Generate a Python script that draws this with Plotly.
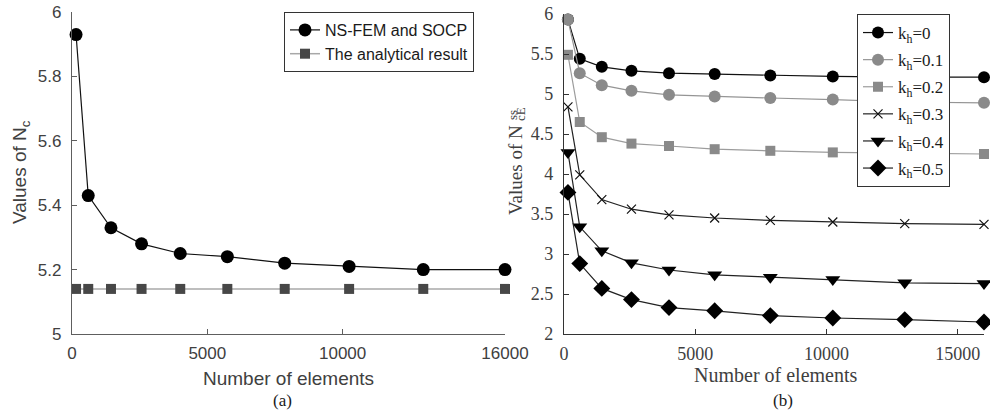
import plotly.graph_objects as go

# Mesh sizes used in the convergence study
elements = [150, 600, 1440, 2570, 4000, 5740, 7860, 10240, 12980, 16000]

# (a) bearing capacity factor Nc
nc_nsfem = [5.93, 5.43, 5.33, 5.28, 5.25, 5.24, 5.22, 5.21, 5.20, 5.20]
nc_analytical = [5.14, 5.14, 5.14, 5.14, 5.14, 5.14, 5.14, 5.14, 5.14, 5.14]

# (b) seismic factor N_cE^ss for several horizontal seismic coefficients
kh_labels = ["0", "0.1", "0.2", "0.3", "0.4", "0.5"]
ncE = [
    [5.93, 5.44, 5.34, 5.29, 5.26, 5.25, 5.23, 5.22, 5.21, 5.21],
    [5.93, 5.26, 5.11, 5.04, 4.99, 4.97, 4.95, 4.93, 4.90, 4.89],
    [5.49, 4.65, 4.46, 4.38, 4.35, 4.31, 4.29, 4.27, 4.26, 4.25],
    [4.84, 3.99, 3.68, 3.56, 3.49, 3.45, 3.42, 3.40, 3.38, 3.37],
    [4.27, 3.34, 3.04, 2.89, 2.80, 2.74, 2.71, 2.68, 2.64, 2.63],
    [3.77, 2.88, 2.57, 2.43, 2.33, 2.29, 2.23, 2.20, 2.18, 2.15],
]

left_xticks = [0, 5000, 10000, 16000]
left_yticks = [5, 5.2, 5.4, 5.6, 5.8, 6]
right_xticks = [0, 5000, 10000, 15000]
right_yticks = [2, 2.5, 3, 3.5, 4, 4.5, 5, 5.5, 6]

W, H = 990, 415
SANS = "Liberation Sans, Arial, sans-serif"
SERIF = "Liberation Serif, DejaVu Serif, serif"


def px(x):
    return x / W


def py(y):
    return 1 - y / H


fig = go.Figure()

# ---- panel (a)
fig.add_trace(go.Scatter(
    x=elements, y=nc_nsfem, mode="lines+markers", name="NS-FEM and SOCP",
    line=dict(color="#111111", width=1.2),
    marker=dict(symbol="circle", size=13, color="#000000"),
    xaxis="x", yaxis="y", legend="legend", cliponaxis=False,
))
fig.add_trace(go.Scatter(
    x=elements, y=nc_analytical, mode="lines+markers", name="The analytical result",
    line=dict(color="#a8a8a8", width=1.5),
    marker=dict(symbol="square", size=10, color="#474747"),
    xaxis="x", yaxis="y", legend="legend", cliponaxis=False,
))

# ---- panel (b)
styles = [
    dict(symbol="circle", size=12, color="#000000", line="#111111"),
    dict(symbol="circle", size=12, color="#8a8a8a", line="#959595"),
    dict(symbol="square", size=10, color="#8a8a8a", line="#9c9c9c"),
    dict(symbol="x-thin", size=9, color="#111111", line="#222222"),
    dict(symbol="triangle-down", size=13, color="#000000", line="#222222"),
    dict(symbol="diamond", size=13, color="#000000", line="#222222"),
]
for lab, vals, st in zip(kh_labels, ncE, styles):
    marker = dict(symbol=st["symbol"], size=st["size"], color=st["color"])
    if st["symbol"] == "x-thin":
        marker["line"] = dict(color=st["color"], width=1.2)
    fig.add_trace(go.Scatter(
        x=elements, y=vals, mode="lines+markers",
        name="k<sub>h</sub>=" + lab, legendgroup="kh" + lab,
        line=dict(color=st["line"], width=1.2),
        marker=marker,
        xaxis="x2", yaxis="y2", legend="legend2", cliponaxis=False,
    ))

axis_common = dict(showgrid=False, zeroline=False, showline=True, ticks="inside",
                   ticklen=5, mirror=False, fixedrange=True, automargin=False)

fig.update_layout(
    width=W, height=H,
    margin=dict(l=0, r=0, t=0, b=0, autoexpand=False),
    paper_bgcolor="white", plot_bgcolor="white",
    xaxis=dict(domain=[px(72), px(505)], range=[0, 16000], anchor="y",
               tickvals=left_xticks, ticktext=[str(v) for v in left_xticks],
               linecolor="#5e5e5e", tickcolor="#5e5e5e", linewidth=1.2,
               tickfont=dict(family=SANS, size=17, color="#404040"),
               ticklabelstandoff=3, **axis_common),
    yaxis=dict(domain=[py(334), py(12)], range=[5, 6], anchor="x",
               tickvals=left_yticks, ticktext=["5", "5.2", "5.4", "5.6", "5.8", "6"],
               linecolor="#5e5e5e", tickcolor="#5e5e5e", linewidth=1.2,
               tickfont=dict(family=SANS, size=17, color="#404040"),
               ticklabelstandoff=6, **axis_common),
    xaxis2=dict(domain=[px(564), px(984)], range=[0, 16000], anchor="y2",
                tickvals=right_xticks, ticktext=[str(v) for v in right_xticks],
                linecolor="#333333", tickcolor="#333333", linewidth=1.2,
                tickfont=dict(family=SERIF, size=18, color="#404040"),
                ticklabelstandoff=3, **axis_common),
    yaxis2=dict(domain=[py(334), py(14)], range=[2, 6], anchor="x2",
                tickvals=right_yticks, ticktext=["2", "2.5", "3", "3.5", "4", "4.5", "5", "5.5", "6"],
                linecolor="#333333", tickcolor="#333333", linewidth=1.2,
                tickfont=dict(family=SERIF, size=18, color="#404040"),
                ticklabelstandoff=6, **axis_common),
    legend=dict(x=px(474), xanchor="right", y=py(12), yanchor="top",
                bgcolor="white", bordercolor="#333333", borderwidth=1,
                font=dict(family=SANS, size=16, color="#1a1a1a"),
                itemwidth=30, tracegroupgap=0),
    legend2=dict(x=px(950), xanchor="right", y=py(14), yanchor="top",
                 bgcolor="white", bordercolor="#333333", borderwidth=1,
                 font=dict(family=SERIF, size=17, color="#1a1a1a"),
                 itemwidth=30, tracegroupgap=2),
    showlegend=True,
)

annotations = [
    dict(text="Number of elements", x=px(288), y=py(378),
         font=dict(family=SANS, size=19, color="#404040")),
    dict(text="Values of N<sub>c</sub>", x=px(21), y=py(172), textangle=-90,
         font=dict(family=SANS, size=19, color="#404040")),
    dict(text="(a)", x=px(282), y=py(400),
         font=dict(family=SERIF, size=17, color="#1a1a1a")),
    dict(text="Number of elements", x=px(775), y=py(375),
         font=dict(family=SERIF, size=20, color="#404040")),
    dict(text="Values of N", x=px(515), y=py(170), textangle=-90,
         font=dict(family=SERIF, size=19, color="#404040")),
    dict(text="ss", x=px(512), y=py(115), textangle=-90,
         font=dict(family=SERIF, size=13, color="#404040")),
    dict(text="cE", x=px(520), y=py(114), textangle=-90,
         font=dict(family=SERIF, size=13, color="#404040")),
    dict(text="(b)", x=px(783), y=py(400),
         font=dict(family=SERIF, size=17, color="#1a1a1a")),
]
for a in annotations:
    a.update(xref="paper", yref="paper", showarrow=False, xanchor="center", yanchor="middle")
fig.update_layout(annotations=annotations)

fig.write_html("out.html")
